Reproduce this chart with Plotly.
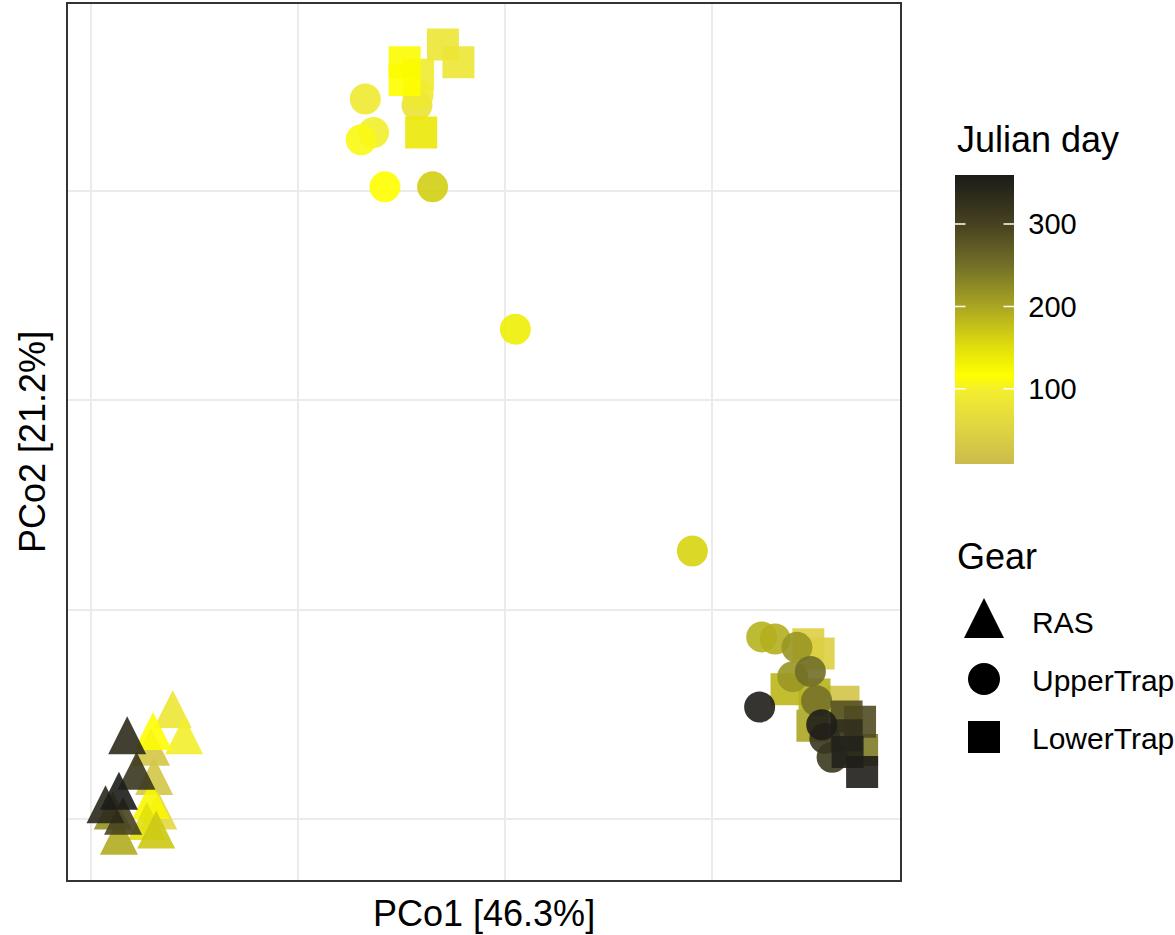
import plotly.graph_objects as go

# ---------------- data ----------------
# RAS samples (triangles)
ras_pco1 = [-0.121, -0.110, -0.140, -0.165, -0.142, -0.156, -0.139, -0.173,
            -0.186, -0.135, -0.146, -0.169, -0.179, -0.173, -0.142, -0.137]
ras_pco2 = [-0.101, -0.126, -0.122, -0.126, -0.137, -0.160, -0.165, -0.179,
            -0.192, -0.198, -0.208, -0.203, -0.198, -0.222, -0.188, -0.216]
ras_day = [85, 100, 115, 335, 30, 320, 30, 359, 340, 60, 150, 300, 220, 195, 125, 170]

# UpperTrap samples (circles)
upper_pco1 = [0.116, 0.115, 0.065, 0.073, 0.061, 0.084, 0.130, 0.210, 0.381,
              0.448, 0.461, 0.482, 0.478, 0.495, 0.501, 0.446, 0.506, 0.509, 0.516]
upper_pco2 = [0.492, 0.482, 0.488, 0.456, 0.449, 0.404, 0.404, 0.268, 0.056,
              -0.026, -0.028, -0.036, -0.064, -0.059, -0.087, -0.093, -0.110, -0.123, -0.141]
upper_day = [90, 80, 90, 100, 110, 118, 165, 135, 160,
             190, 192, 215, 215, 252, 248, 355, 355, 320, 315]

# LowerTrap samples (squares)
lower_pco1 = [0.103, 0.103, 0.116, 0.140, 0.155, 0.119,
              0.493, 0.503, 0.472, 0.499, 0.497, 0.527, 0.530, 0.543, 0.530, 0.545, 0.531, 0.545]
lower_pco2 = [0.523, 0.506, 0.511, 0.540, 0.523, 0.456,
              -0.033, -0.042, -0.076, -0.081, -0.111, -0.088, -0.102, -0.107, -0.120, -0.134, -0.136, -0.155]
lower_day = [120, 118, 95, 85, 85, 140,
             45, 45, 185, 190, 200, 25, 285, 290, 330, 240, 350, 355]

gear_names = ["RAS", "UpperTrap", "LowerTrap"]
grid_vals = [-0.2, 0.0, 0.2, 0.4]
cbar_ticks = [100, 200, 300]

# ---------------- layout geometry ----------------
W, H = 1175, 935
PX_L, PX_R, PX_T, PX_B = 68, 900, 4, 880
X_RANGE = [-0.2222, 0.5816]
Y_RANGE = [-0.2583, 0.5787]
FONT = "Liberation Sans, Arial, sans-serif"

SYMBOL = {"RAS": "arrow-up", "UpperTrap": "circle", "LowerTrap": "square"}
SIZE = {"RAS": 38, "UpperTrap": 31, "LowerTrap": 32}

# 'arrow-up' has its apex at the anchor point: lift it so the triangle is
# centred on its centroid
px_per_unit_y = (PX_B - PX_T) / (Y_RANGE[1] - Y_RANGE[0])
tri_lift = (2.0 / 3.0) * SIZE["RAS"] / px_per_unit_y

rows = []
for g, xs, ys, ds in [("RAS", ras_pco1, ras_pco2, ras_day),
                      ("UpperTrap", upper_pco1, upper_pco2, upper_day),
                      ("LowerTrap", lower_pco1, lower_pco2, lower_day)]:
    for x, y, d in zip(xs, ys, ds):
        rows.append((d, g, x, y))
# later days drawn on top
rows.sort(key=lambda r: r[0])

px = [r[2] for r in rows]
py = [r[3] + (tri_lift if r[1] == "RAS" else 0.0) for r in rows]
pday = [r[0] for r in rows]
psym = [SYMBOL[r[1]] for r in rows]
psize = [SIZE[r[1]] for r in rows]

DMIN, DMAX = 10, 360
def stop(day, col):
    return [(day - DMIN) / (DMAX - DMIN), col]

colorscale = [
    stop(10, "#CABB4C"),
    stop(60, "#E2D840"),
    stop(100, "#F3EE2E"),
    stop(117, "#FFFF00"),
    stop(150, "#E2E00C"),
    stop(200, "#ABA622"),
    stop(250, "#737028"),
    stop(300, "#474220"),
    stop(360, "#1B1B19"),
]

fig = go.Figure()

fig.add_trace(go.Scatter(
    x=px, y=py, mode="markers", showlegend=False, hoverinfo="skip",
    marker=dict(symbol=psym, size=psize, color=pday, coloraxis="coloraxis",
                opacity=0.9, line=dict(width=0)),
))

# Gear key, drawn on an invisible axis pair spanning the whole figure in pixels
key_x = 984
key_y = [598, 679, 737]
fig.add_trace(go.Scatter(
    x=[key_x] * 3, y=key_y, mode="markers", showlegend=False, hoverinfo="skip",
    xaxis="x2", yaxis="y2", opacity=1,
    marker=dict(symbol=[SYMBOL[g] for g in gear_names], opacity=1,
                size=[40, 32, 32], color="#000000", line=dict(width=0)),
))

annotations = [
    dict(text="PCo1 [46.3%]", x=(PX_L + PX_R) / 2 / W, y=1 - 913 / H,
         xref="paper", yref="paper", xanchor="center", yanchor="middle",
         showarrow=False, font=dict(size=36, color="black", family=FONT)),
    dict(text="PCo2 [21.2%]", x=33 / W, y=1 - 442 / H, textangle=-90,
         xref="paper", yref="paper", xanchor="center", yanchor="middle",
         showarrow=False, font=dict(size=36, color="black", family=FONT)),
    dict(text="Julian day", x=955 / W, y=1 - 140 / H, xanchor="left", yanchor="middle",
         xref="paper", yref="paper", showarrow=False,
         font=dict(size=36, color="black", family=FONT)),
    dict(text="Gear", x=955 / W, y=1 - 556 / H, xanchor="left", yanchor="middle",
         xref="paper", yref="paper", showarrow=False,
         font=dict(size=36, color="black", family=FONT)),
]
for g, yy in zip(gear_names, [622, 680, 738]):
    annotations.append(dict(text=g, x=1030 / W, y=1 - yy / H,
                            xanchor="left", yanchor="middle",
                            xref="paper", yref="paper", showarrow=False,
                            font=dict(size=30, color="black", family=FONT)))

# colour bar geometry (pixels); white tick marks on both inner edges
CB_L, CB_W = 955, 59
CB_TOP, CB_BOT = 174.5, 463
TICK_LEN = 12
for v in cbar_ticks:
    ypix = CB_BOT - (v - DMIN) / (DMAX - DMIN) * (CB_BOT - CB_TOP)
    for x_edge, dx in [(CB_L, TICK_LEN), (CB_L + CB_W, -TICK_LEN)]:
        annotations.append(dict(
            text="", x=x_edge / W, y=1 - ypix / H, xref="paper", yref="paper",
            showarrow=True, arrowhead=0, arrowwidth=1.5, arrowcolor="white",
            ax=dx, ay=0, standoff=0, startstandoff=0,
        ))

fig.update_layout(
    width=W, height=H,
    margin=dict(l=0, r=0, t=0, b=0),
    paper_bgcolor="white",
    plot_bgcolor="rgba(0,0,0,0)",
    font=dict(family=FONT, color="black"),
    xaxis=dict(domain=[PX_L / W, PX_R / W], range=X_RANGE,
               tickvals=grid_vals, showticklabels=False, ticks="",
               showgrid=True, gridcolor="#EBEBEB", gridwidth=2.2,
               zeroline=False, showline=True, mirror=True,
               linecolor="#333333", linewidth=2),
    yaxis=dict(domain=[1 - PX_B / H, 1 - PX_T / H], range=Y_RANGE,
               tickvals=grid_vals, showticklabels=False, ticks="",
               showgrid=True, gridcolor="#EBEBEB", gridwidth=2.2,
               zeroline=False, showline=True, mirror=True,
               linecolor="#333333", linewidth=2),
    xaxis2=dict(domain=[0, 1], range=[0, W], visible=False, anchor="y2"),
    yaxis2=dict(domain=[0, 1], range=[H, 0], visible=False, anchor="x2"),
    coloraxis=dict(
        colorscale=colorscale, cmin=DMIN, cmax=DMAX,
        colorbar=dict(
            x=CB_L / W, xref="paper", xanchor="left", xpad=0,
            y=1 - CB_TOP / H, yref="paper", yanchor="top", ypad=0,
            len=CB_BOT - CB_TOP, lenmode="pixels",
            thickness=CB_W, thicknessmode="pixels",
            outlinewidth=0,
            tickvals=cbar_ticks, ticks="outside", ticklen=9, tickwidth=1,
            tickcolor="rgba(255,255,255,0)",
            tickfont=dict(size=29, color="black", family=FONT),
        ),
    ),
    annotations=annotations,
)

fig.write_html("out.html")
